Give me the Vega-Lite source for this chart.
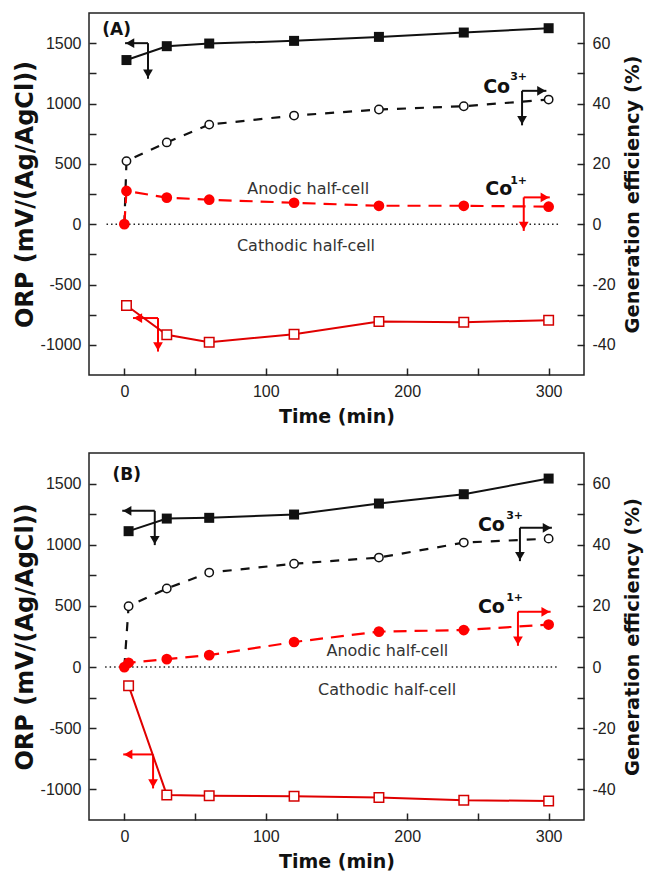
{
  "$schema": "https://vega.github.io/schema/vega-lite/v6.json",
  "background": "white",
  "padding": {"left": 12, "top": 12, "right": 2, "bottom": 2},
  "spacing": 25,
  "config": {
    "view": {"stroke": "#222", "strokeWidth": 1.5},
    "axis": {
      "labelFont": "Liberation Sans", "labelFontSize": 16, "labelColor": "#222",
      "titleFont": "DejaVu Sans", "titleFontWeight": "bold", "titleColor": "#111",
      "tickColor": "#222", "tickWidth": 1.5, "domain": false, "grid": false
    }
  },
  "datasets": {
    "orp": [
      {"panel": "A", "s": "sqb", "t": 1.5, "v": 1360}, {"panel": "A", "s": "sqb", "t": 30, "v": 1475}, {"panel": "A", "s": "sqb", "t": 60, "v": 1497}, {"panel": "A", "s": "sqb", "t": 120, "v": 1519}, {"panel": "A", "s": "sqb", "t": 180, "v": 1552}, {"panel": "A", "s": "sqb", "t": 240, "v": 1588}, {"panel": "A", "s": "sqb", "t": 300, "v": 1624},
      {"panel": "A", "s": "sqr", "t": 1.5, "v": -674}, {"panel": "A", "s": "sqr", "t": 30, "v": -917}, {"panel": "A", "s": "sqr", "t": 60, "v": -978}, {"panel": "A", "s": "sqr", "t": 120, "v": -912}, {"panel": "A", "s": "sqr", "t": 180, "v": -807}, {"panel": "A", "s": "sqr", "t": 240, "v": -812}, {"panel": "A", "s": "sqr", "t": 300, "v": -796},
      {"panel": "B", "s": "sqb", "t": 3, "v": 1111}, {"panel": "B", "s": "sqb", "t": 30, "v": 1214}, {"panel": "B", "s": "sqb", "t": 60, "v": 1220}, {"panel": "B", "s": "sqb", "t": 120, "v": 1247}, {"panel": "B", "s": "sqb", "t": 180, "v": 1337}, {"panel": "B", "s": "sqb", "t": 240, "v": 1413}, {"panel": "B", "s": "sqb", "t": 300, "v": 1541},
      {"panel": "B", "s": "sqr", "t": 3, "v": -152}, {"panel": "B", "s": "sqr", "t": 30, "v": -1045}, {"panel": "B", "s": "sqr", "t": 60, "v": -1051}, {"panel": "B", "s": "sqr", "t": 120, "v": -1056}, {"panel": "B", "s": "sqr", "t": 180, "v": -1067}, {"panel": "B", "s": "sqr", "t": 240, "v": -1089}, {"panel": "B", "s": "sqr", "t": 300, "v": -1094}
    ],
    "eff": [
      {"panel": "A", "s": "co", "t": 0, "v": 0}, {"panel": "A", "s": "co", "t": 1.5, "v": 20.9}, {"panel": "A", "s": "co", "t": 30, "v": 27.1}, {"panel": "A", "s": "co", "t": 60, "v": 33.0}, {"panel": "A", "s": "co", "t": 120, "v": 36.0}, {"panel": "A", "s": "co", "t": 180, "v": 38.0}, {"panel": "A", "s": "co", "t": 240, "v": 39.1}, {"panel": "A", "s": "co", "t": 300, "v": 41.3},
      {"panel": "A", "s": "cr", "t": 0, "v": 0}, {"panel": "A", "s": "cr", "t": 1.5, "v": 11.0}, {"panel": "A", "s": "cr", "t": 30, "v": 8.8}, {"panel": "A", "s": "cr", "t": 60, "v": 8.1}, {"panel": "A", "s": "cr", "t": 120, "v": 7.1}, {"panel": "A", "s": "cr", "t": 180, "v": 6.1}, {"panel": "A", "s": "cr", "t": 240, "v": 6.1}, {"panel": "A", "s": "cr", "t": 300, "v": 5.8},
      {"panel": "B", "s": "co", "t": 0, "v": 0}, {"panel": "B", "s": "co", "t": 3, "v": 19.9}, {"panel": "B", "s": "co", "t": 30, "v": 25.7}, {"panel": "B", "s": "co", "t": 60, "v": 30.9}, {"panel": "B", "s": "co", "t": 120, "v": 33.8}, {"panel": "B", "s": "co", "t": 180, "v": 35.8}, {"panel": "B", "s": "co", "t": 240, "v": 40.7}, {"panel": "B", "s": "co", "t": 300, "v": 42.0},
      {"panel": "B", "s": "cr", "t": 0, "v": 0}, {"panel": "B", "s": "cr", "t": 3, "v": 1.4}, {"panel": "B", "s": "cr", "t": 30, "v": 2.6}, {"panel": "B", "s": "cr", "t": 60, "v": 3.9}, {"panel": "B", "s": "cr", "t": 120, "v": 8.2}, {"panel": "B", "s": "cr", "t": 180, "v": 11.6}, {"panel": "B", "s": "cr", "t": 240, "v": 12.1}, {"panel": "B", "s": "cr", "t": 300, "v": 13.9}
    ],
    "zero": [
      {"panel": "A", "t": -12.6, "t2": 307.9, "v": 0},
      {"panel": "B", "t": -13.6, "t2": 307, "v": 0}
    ],
    "arrows": [
      {"panel": "A", "c": "k", "t": 16.7, "v": 1500, "t2": 0.5, "v2": 1500}, {"panel": "A", "c": "k", "t": 16.7, "v": 1500, "t2": 16.7, "v2": 1205},
      {"panel": "A", "c": "k", "t": 281.2, "v": 1105, "t2": 298.4, "v2": 1105}, {"panel": "A", "c": "k", "t": 281.2, "v": 1105, "t2": 281.2, "v2": 819},
      {"panel": "A", "c": "r", "t": 282.4, "v": 222, "t2": 300.8, "v2": 222}, {"panel": "A", "c": "r", "t": 282.4, "v": 222, "t2": 282.4, "v2": -56},
      {"panel": "A", "c": "r", "t": 23.8, "v": -778, "t2": 6.1, "v2": -778}, {"panel": "A", "c": "r", "t": 23.8, "v": -778, "t2": 23.8, "v2": -1056},
      {"panel": "B", "c": "k", "t": 21.5, "v": 1277, "t2": -1.5, "v2": 1277}, {"panel": "B", "c": "k", "t": 21.5, "v": 1277, "t2": 21.5, "v2": 997},
      {"panel": "B", "c": "k", "t": 279.7, "v": 1138, "t2": 302.3, "v2": 1138}, {"panel": "B", "c": "k", "t": 279.7, "v": 1138, "t2": 279.7, "v2": 866},
      {"panel": "B", "c": "r", "t": 278.3, "v": 452, "t2": 301.4, "v2": 452}, {"panel": "B", "c": "r", "t": 278.3, "v": 452, "t2": 278.3, "v2": 174},
      {"panel": "B", "c": "r", "t": 20.3, "v": -714, "t2": -0.8, "v2": -714}, {"panel": "B", "c": "r", "t": 20.3, "v": -714, "t2": 20.3, "v2": -992}
    ],
    "heads": [
      {"panel": "A", "c": "k", "dir": "left", "t": 4.0, "v": 1500}, {"panel": "A", "c": "k", "dir": "down", "t": 16.7, "v": 1247},
      {"panel": "A", "c": "k", "dir": "right", "t": 294.9, "v": 1105}, {"panel": "A", "c": "k", "dir": "down", "t": 281.2, "v": 861},
      {"panel": "A", "c": "r", "dir": "right", "t": 297.3, "v": 222}, {"panel": "A", "c": "r", "dir": "down", "t": 282.4, "v": -14},
      {"panel": "A", "c": "r", "dir": "left", "t": 9.6, "v": -778}, {"panel": "A", "c": "r", "dir": "down", "t": 23.8, "v": -1014},
      {"panel": "B", "c": "k", "dir": "left", "t": 2.0, "v": 1277}, {"panel": "B", "c": "k", "dir": "down", "t": 21.5, "v": 1038},
      {"panel": "B", "c": "k", "dir": "right", "t": 298.8, "v": 1138}, {"panel": "B", "c": "k", "dir": "down", "t": 279.7, "v": 907},
      {"panel": "B", "c": "r", "dir": "right", "t": 297.9, "v": 452}, {"panel": "B", "c": "r", "dir": "down", "t": 278.3, "v": 215},
      {"panel": "B", "c": "r", "dir": "left", "t": 2.7, "v": -714}, {"panel": "B", "c": "r", "dir": "down", "t": 20.3, "v": -951}
    ],
    "labels": [
      {"panel": "A", "kind": "panel", "text": "(A)", "t": -15.6, "v": 1605},
      {"panel": "A", "kind": "co", "text": "Co", "t": 253.7, "v": 1138},
      {"panel": "A", "kind": "sup", "text": "3+", "t": 272.8, "v": 1221},
      {"panel": "A", "kind": "co", "text": "Co", "t": 255.2, "v": 290},
      {"panel": "A", "kind": "sup", "text": "1+", "t": 272.8, "v": 359},
      {"panel": "A", "kind": "half", "text": "Anodic half-cell", "t": 86.9, "v": 290},
      {"panel": "A", "kind": "half", "text": "Cathodic half-cell", "t": 79.6, "v": -185},
      {"panel": "B", "kind": "panel", "text": "(B)", "t": -8.4, "v": 1568},
      {"panel": "B", "kind": "co", "text": "Co", "t": 250, "v": 1165},
      {"panel": "B", "kind": "sup", "text": "3+", "t": 270, "v": 1236},
      {"panel": "B", "kind": "co", "text": "Co", "t": 250, "v": 493},
      {"panel": "B", "kind": "sup", "text": "1+", "t": 270, "v": 561},
      {"panel": "B", "kind": "half", "text": "Anodic half-cell", "t": 142.9, "v": 131},
      {"panel": "B", "kind": "half", "text": "Cathodic half-cell", "t": 137, "v": -188}
    ]
  },
  "vconcat": [
    {
      "width": 495, "height": 362,
      "encoding": {"x": {"field": "t", "type": "quantitative", "scale": {"domain": [-25, 325], "nice": false, "zero": false},
        "axis": {"title": "Time (min)", "titleFontSize": 19, "values": [0, 50, 100, 150, 200, 250, 300], "labelExpr": "datum.value % 100 === 0 ? '' + datum.value : ''", "tickSize": -7, "labelPadding": 15, "titlePadding": 8}}},
      "layer": [
        {"data": {"name": "zero"}, "transform": [{"filter": "datum.panel === 'A'"}], "mark": {"type": "rule", "color": "#222", "strokeWidth": 1.5, "strokeDash": [1.5, 3]},
         "encoding": {"x2": {"field": "t2"}, "y": {"field": "v", "type": "quantitative", "scale": {"domain": [-1250, 1750], "nice": false, "zero": false}, "axis": null}}},
        {"data": {"name": "arrows"}, "transform": [{"filter": "datum.panel === 'A'"}], "mark": {"type": "rule", "strokeWidth": 2},
         "encoding": {"x2": {"field": "t2"}, "y": {"field": "v", "type": "quantitative", "scale": {"domain": [-1250, 1750], "nice": false, "zero": false}, "axis": null}, "y2": {"field": "v2"},
           "color": {"field": "c", "type": "nominal", "scale": {"domain": ["k", "r"], "range": ["#111111", "#ff0000"]}, "legend": null}}},
        {"data": {"name": "orp"}, "transform": [{"filter": "datum.panel === 'A' && datum.s === 'sqb'"}], "mark": {"type": "line", "color": "#111111", "strokeWidth": 2},
         "encoding": {"y": {"field": "v", "type": "quantitative", "scale": {"domain": [-1250, 1750], "nice": false, "zero": false},
           "axis": {"title": "ORP (mV/(Ag/AgCl))", "titleFontSize": 24, "values": [-1000, -750, -500, -250, 0, 250, 500, 750, 1000, 1250, 1500], "labelExpr": "datum.value % 500 === 0 ? '' + datum.value : ''", "tickSize": -7, "labelPadding": 15, "titlePadding": 3}}}},
        {"data": {"name": "orp"}, "transform": [{"filter": "datum.panel === 'A' && datum.s === 'sqr'"}], "mark": {"type": "line", "color": "#e00000", "strokeWidth": 2},
         "encoding": {"y": {"field": "v", "type": "quantitative", "scale": {"domain": [-1250, 1750], "nice": false, "zero": false}, "axis": null}}},
        {"data": {"name": "eff"}, "transform": [{"filter": "datum.panel === 'A' && datum.s === 'co'"}], "mark": {"type": "line", "color": "#111111", "strokeWidth": 2.2, "strokeDash": [9, 9]},
         "encoding": {"y": {"field": "v", "type": "quantitative", "scale": {"domain": [-50, 70], "nice": false, "zero": false},
           "axis": {"orient": "right", "title": "Generation efficiency (%)", "titleFontSize": 19.5, "titleAngle": -90, "titleBaseline": "top", "values": [-40, -30, -20, -10, 0, 10, 20, 30, 40, 50, 60], "labelExpr": "datum.value % 20 === 0 ? '' + datum.value : ''", "tickSize": -7, "labelPadding": 15, "titlePadding": 8}}}},
        {"data": {"name": "eff"}, "transform": [{"filter": "datum.panel === 'A' && datum.s === 'cr'"}], "mark": {"type": "line", "color": "#ff0000", "strokeWidth": 2.2, "strokeDash": [13, 8]},
         "encoding": {"y": {"field": "v", "type": "quantitative", "scale": {"domain": [-50, 70], "nice": false, "zero": false}, "axis": null}}},
        {"data": {"name": "orp"}, "transform": [{"filter": "datum.panel === 'A' && datum.s === 'sqb'"}], "mark": {"type": "point", "shape": "square", "filled": true, "color": "#111111", "size": 100, "opacity": 1},
         "encoding": {"y": {"field": "v", "type": "quantitative", "scale": {"domain": [-1250, 1750], "nice": false, "zero": false}, "axis": null}}},
        {"data": {"name": "orp"}, "transform": [{"filter": "datum.panel === 'A' && datum.s === 'sqr'"}], "mark": {"type": "point", "shape": "square", "filled": true, "fill": "white", "stroke": "#d40000", "strokeWidth": 1.5, "size": 90, "opacity": 1},
         "encoding": {"y": {"field": "v", "type": "quantitative", "scale": {"domain": [-1250, 1750], "nice": false, "zero": false}, "axis": null}}},
        {"data": {"name": "eff"}, "transform": [{"filter": "datum.panel === 'A' && datum.s === 'co' && datum.t > 0"}], "mark": {"type": "point", "shape": "circle", "filled": true, "fill": "white", "stroke": "#111111", "strokeWidth": 1.5, "size": 70, "opacity": 1},
         "encoding": {"y": {"field": "v", "type": "quantitative", "scale": {"domain": [-50, 70], "nice": false, "zero": false}, "axis": null}}},
        {"data": {"name": "eff"}, "transform": [{"filter": "datum.panel === 'A' && datum.s === 'cr'"}], "mark": {"type": "point", "shape": "circle", "filled": true, "color": "#ff0000", "size": 115, "opacity": 1},
         "encoding": {"y": {"field": "v", "type": "quantitative", "scale": {"domain": [-50, 70], "nice": false, "zero": false}, "axis": null}}},
        {"data": {"name": "heads"}, "transform": [{"filter": "datum.panel === 'A'"}], "mark": {"type": "point", "filled": true, "size": 95, "opacity": 1},
         "encoding": {"y": {"field": "v", "type": "quantitative", "scale": {"domain": [-1250, 1750], "nice": false, "zero": false}, "axis": null},
           "shape": {"field": "dir", "type": "nominal", "scale": {"domain": ["left", "down", "right"], "range": ["triangle-left", "triangle-down", "triangle-right"]}, "legend": null},
           "color": {"field": "c", "type": "nominal", "scale": {"domain": ["k", "r"], "range": ["#111111", "#ff0000"]}, "legend": null}}},
        {"data": {"name": "labels"}, "transform": [{"filter": "datum.panel === 'A' && datum.kind === 'panel'"}], "mark": {"type": "text", "align": "left", "baseline": "middle", "font": "DejaVu Sans", "fontWeight": "bold", "fontSize": 17, "color": "#111"},
         "encoding": {"text": {"field": "text"}, "y": {"field": "v", "type": "quantitative", "scale": {"domain": [-1250, 1750], "nice": false, "zero": false}, "axis": null}}},
        {"data": {"name": "labels"}, "transform": [{"filter": "datum.panel === 'A' && datum.kind === 'co'"}], "mark": {"type": "text", "align": "left", "baseline": "middle", "font": "DejaVu Sans", "fontWeight": "bold", "fontSize": 19, "color": "#111"},
         "encoding": {"text": {"field": "text"}, "y": {"field": "v", "type": "quantitative", "scale": {"domain": [-1250, 1750], "nice": false, "zero": false}, "axis": null}}},
        {"data": {"name": "labels"}, "transform": [{"filter": "datum.panel === 'A' && datum.kind === 'sup'"}], "mark": {"type": "text", "align": "left", "baseline": "middle", "font": "DejaVu Sans", "fontWeight": "bold", "fontSize": 11, "color": "#111"},
         "encoding": {"text": {"field": "text"}, "y": {"field": "v", "type": "quantitative", "scale": {"domain": [-1250, 1750], "nice": false, "zero": false}, "axis": null}}},
        {"data": {"name": "labels"}, "transform": [{"filter": "datum.panel === 'A' && datum.kind === 'half'"}], "mark": {"type": "text", "align": "left", "baseline": "middle", "font": "DejaVu Sans", "fontSize": 16, "color": "#333"},
         "encoding": {"text": {"field": "text"}, "y": {"field": "v", "type": "quantitative", "scale": {"domain": [-1250, 1750], "nice": false, "zero": false}, "axis": null}}}
      ],
      "resolve": {"scale": {"y": "independent"}}
    },
    {
      "width": 495, "height": 367,
      "encoding": {"x": {"field": "t", "type": "quantitative", "scale": {"domain": [-25, 325], "nice": false, "zero": false},
        "axis": {"title": "Time (min)", "titleFontSize": 19, "values": [0, 50, 100, 150, 200, 250, 300], "labelExpr": "datum.value % 100 === 0 ? '' + datum.value : ''", "tickSize": -7, "labelPadding": 15, "titlePadding": 8}}},
      "layer": [
        {"data": {"name": "zero"}, "transform": [{"filter": "datum.panel === 'B'"}], "mark": {"type": "rule", "color": "#222", "strokeWidth": 1.5, "strokeDash": [1.5, 3]},
         "encoding": {"x2": {"field": "t2"}, "y": {"field": "v", "type": "quantitative", "scale": {"domain": [-1250, 1750], "nice": false, "zero": false}, "axis": null}}},
        {"data": {"name": "arrows"}, "transform": [{"filter": "datum.panel === 'B'"}], "mark": {"type": "rule", "strokeWidth": 2},
         "encoding": {"x2": {"field": "t2"}, "y": {"field": "v", "type": "quantitative", "scale": {"domain": [-1250, 1750], "nice": false, "zero": false}, "axis": null}, "y2": {"field": "v2"},
           "color": {"field": "c", "type": "nominal", "scale": {"domain": ["k", "r"], "range": ["#111111", "#ff0000"]}, "legend": null}}},
        {"data": {"name": "orp"}, "transform": [{"filter": "datum.panel === 'B' && datum.s === 'sqb'"}], "mark": {"type": "line", "color": "#111111", "strokeWidth": 2},
         "encoding": {"y": {"field": "v", "type": "quantitative", "scale": {"domain": [-1250, 1750], "nice": false, "zero": false},
           "axis": {"title": "ORP (mV/(Ag/AgCl))", "titleFontSize": 24, "values": [-1000, -750, -500, -250, 0, 250, 500, 750, 1000, 1250, 1500], "labelExpr": "datum.value % 500 === 0 ? '' + datum.value : ''", "tickSize": -7, "labelPadding": 15, "titlePadding": 3}}}},
        {"data": {"name": "orp"}, "transform": [{"filter": "datum.panel === 'B' && datum.s === 'sqr'"}], "mark": {"type": "line", "color": "#e00000", "strokeWidth": 2},
         "encoding": {"y": {"field": "v", "type": "quantitative", "scale": {"domain": [-1250, 1750], "nice": false, "zero": false}, "axis": null}}},
        {"data": {"name": "eff"}, "transform": [{"filter": "datum.panel === 'B' && datum.s === 'co'"}], "mark": {"type": "line", "color": "#111111", "strokeWidth": 2.2, "strokeDash": [9, 9]},
         "encoding": {"y": {"field": "v", "type": "quantitative", "scale": {"domain": [-50, 70], "nice": false, "zero": false},
           "axis": {"orient": "right", "title": "Generation efficiency (%)", "titleFontSize": 19.5, "titleAngle": -90, "titleBaseline": "top", "values": [-40, -30, -20, -10, 0, 10, 20, 30, 40, 50, 60], "labelExpr": "datum.value % 20 === 0 ? '' + datum.value : ''", "tickSize": -7, "labelPadding": 15, "titlePadding": 8}}}},
        {"data": {"name": "eff"}, "transform": [{"filter": "datum.panel === 'B' && datum.s === 'cr'"}], "mark": {"type": "line", "color": "#ff0000", "strokeWidth": 2.2, "strokeDash": [13, 8]},
         "encoding": {"y": {"field": "v", "type": "quantitative", "scale": {"domain": [-50, 70], "nice": false, "zero": false}, "axis": null}}},
        {"data": {"name": "orp"}, "transform": [{"filter": "datum.panel === 'B' && datum.s === 'sqb'"}], "mark": {"type": "point", "shape": "square", "filled": true, "color": "#111111", "size": 100, "opacity": 1},
         "encoding": {"y": {"field": "v", "type": "quantitative", "scale": {"domain": [-1250, 1750], "nice": false, "zero": false}, "axis": null}}},
        {"data": {"name": "orp"}, "transform": [{"filter": "datum.panel === 'B' && datum.s === 'sqr'"}], "mark": {"type": "point", "shape": "square", "filled": true, "fill": "white", "stroke": "#d40000", "strokeWidth": 1.5, "size": 90, "opacity": 1},
         "encoding": {"y": {"field": "v", "type": "quantitative", "scale": {"domain": [-1250, 1750], "nice": false, "zero": false}, "axis": null}}},
        {"data": {"name": "eff"}, "transform": [{"filter": "datum.panel === 'B' && datum.s === 'co' && datum.t > 0"}], "mark": {"type": "point", "shape": "circle", "filled": true, "fill": "white", "stroke": "#111111", "strokeWidth": 1.5, "size": 70, "opacity": 1},
         "encoding": {"y": {"field": "v", "type": "quantitative", "scale": {"domain": [-50, 70], "nice": false, "zero": false}, "axis": null}}},
        {"data": {"name": "eff"}, "transform": [{"filter": "datum.panel === 'B' && datum.s === 'cr'"}], "mark": {"type": "point", "shape": "circle", "filled": true, "color": "#ff0000", "size": 115, "opacity": 1},
         "encoding": {"y": {"field": "v", "type": "quantitative", "scale": {"domain": [-50, 70], "nice": false, "zero": false}, "axis": null}}},
        {"data": {"name": "heads"}, "transform": [{"filter": "datum.panel === 'B'"}], "mark": {"type": "point", "filled": true, "size": 95, "opacity": 1},
         "encoding": {"y": {"field": "v", "type": "quantitative", "scale": {"domain": [-1250, 1750], "nice": false, "zero": false}, "axis": null},
           "shape": {"field": "dir", "type": "nominal", "scale": {"domain": ["left", "down", "right"], "range": ["triangle-left", "triangle-down", "triangle-right"]}, "legend": null},
           "color": {"field": "c", "type": "nominal", "scale": {"domain": ["k", "r"], "range": ["#111111", "#ff0000"]}, "legend": null}}},
        {"data": {"name": "labels"}, "transform": [{"filter": "datum.panel === 'B' && datum.kind === 'panel'"}], "mark": {"type": "text", "align": "left", "baseline": "middle", "font": "DejaVu Sans", "fontWeight": "bold", "fontSize": 17, "color": "#111"},
         "encoding": {"text": {"field": "text"}, "y": {"field": "v", "type": "quantitative", "scale": {"domain": [-1250, 1750], "nice": false, "zero": false}, "axis": null}}},
        {"data": {"name": "labels"}, "transform": [{"filter": "datum.panel === 'B' && datum.kind === 'co'"}], "mark": {"type": "text", "align": "left", "baseline": "middle", "font": "DejaVu Sans", "fontWeight": "bold", "fontSize": 19, "color": "#111"},
         "encoding": {"text": {"field": "text"}, "y": {"field": "v", "type": "quantitative", "scale": {"domain": [-1250, 1750], "nice": false, "zero": false}, "axis": null}}},
        {"data": {"name": "labels"}, "transform": [{"filter": "datum.panel === 'B' && datum.kind === 'sup'"}], "mark": {"type": "text", "align": "left", "baseline": "middle", "font": "DejaVu Sans", "fontWeight": "bold", "fontSize": 11, "color": "#111"},
         "encoding": {"text": {"field": "text"}, "y": {"field": "v", "type": "quantitative", "scale": {"domain": [-1250, 1750], "nice": false, "zero": false}, "axis": null}}},
        {"data": {"name": "labels"}, "transform": [{"filter": "datum.panel === 'B' && datum.kind === 'half'"}], "mark": {"type": "text", "align": "left", "baseline": "middle", "font": "DejaVu Sans", "fontSize": 16, "color": "#333"},
         "encoding": {"text": {"field": "text"}, "y": {"field": "v", "type": "quantitative", "scale": {"domain": [-1250, 1750], "nice": false, "zero": false}, "axis": null}}}
      ],
      "resolve": {"scale": {"y": "independent"}}
    }
  ]
}
